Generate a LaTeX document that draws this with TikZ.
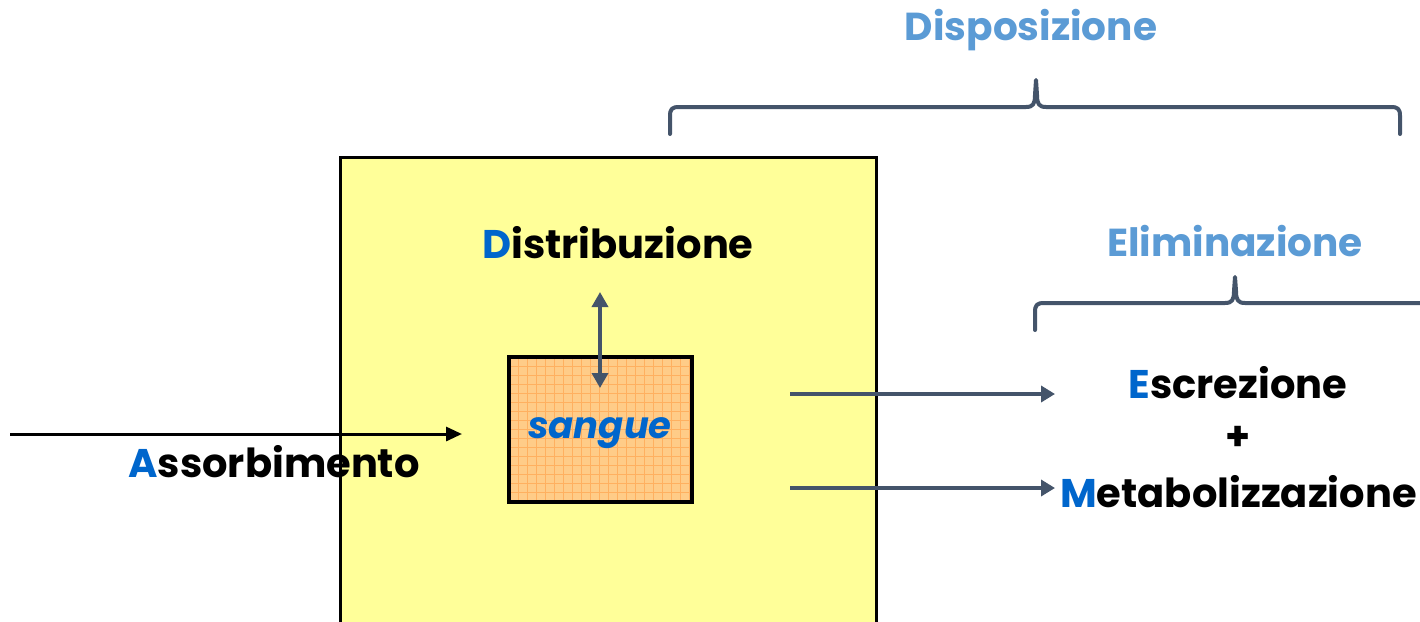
\documentclass[tikz,border=0pt]{standalone}
\usepackage{fontspec}
\setmainfont{Poppins}
\usetikzlibrary{arrows.meta}
\definecolor{slate}{HTML}{44546A}
\definecolor{lblue}{HTML}{5B9BD5}
\definecolor{dblue}{HTML}{0066CC}
\definecolor{pale}{HTML}{FFFF99}
\definecolor{peach}{HTML}{FFCC88}
\definecolor{gridor}{HTML}{FFB060}
\tikzset{
  lbl/.style={font=\fontsize{40}{46}\selectfont\bfseries, text=black, inner sep=0pt},
  head/.style={font=\fontsize{39}{45}\selectfont\bfseries, text=lblue, inner sep=0pt},
  flow/.style={draw=slate, line width=3.5pt, -{Triangle[length=14pt,width=16pt]}},
  brace/.style={draw=slate, line width=4pt, line cap=round, line join=round},
}
\newcommand{\ini}[1]{\textcolor{dblue}{#1}}
\begin{document}
\begin{tikzpicture}[x=1pt,y=-1pt]
\useasboundingbox (0,0) rectangle (1420,621);
\clip (0,0) rectangle (1420,621);
\fill[white] (0,0) rectangle (1420,621);

% body compartment
\draw[fill=pale, line width=3pt] (340,157) rectangle (876,640);

% blood compartment with grid texture
\fill[peach] (509,357) rectangle (692,502);
\begin{scope}
  \clip (509,357) rectangle (692,502);
  \foreach \i in {0,...,21} {
    \draw[gridor, line width=0.8pt] (509+9*\i,357) -- (509+9*\i,502);
  }
  \foreach \j in {0,...,17} {
    \draw[gridor, line width=0.8pt] (509,357+9*\j) -- (692,357+9*\j);
  }
\end{scope}
\draw[line width=3.5pt] (509,357) rectangle (692,502);
\node[font=\fontsize{37}{42}\selectfont\bfseries\itshape, text=dblue, inner sep=0pt] (sangue) at (600,433) {sangue};

% distribution
\node[lbl] (distr) at (618,243) {\ini{D}istribuzione};
\coordinate (dtop) at (600,292);
\coordinate (dbot) at (600,388);
\draw[draw=slate, line width=3.5pt, {Triangle[length=15pt,width=16pt]}-{Triangle[length=15pt,width=16pt]}] (dtop) -- (dbot);

% absorption
\coordinate (abs0) at (10,434);
\coordinate (abs1) at (462,434);
\draw[line width=3pt, -{Triangle[length=16pt,width=14pt]}] (abs0) -- (abs1);
\node[lbl] (assorb) at (274,462) {\ini{A}ssorbimento};

% elimination routes
\node[lbl] (escr) at (1238,383) {\ini{E}screzione};
\node[lbl] (plus) at (1238,438) {+};
\node[lbl, anchor=west] (metab) at (1060,492) {\ini{M}etabolizzazione};
\coordinate (e0) at (790,394);
\coordinate (e1) at (1055,394);
\coordinate (m0) at (790,488);
\coordinate (m1) at (1055,488);
\draw[flow] (e0) -- (e1);
\draw[flow] (m0) -- (m1);

% headings and braces
\node[head] (disp) at (1031,30) {Disposizione};
\node[head] (elim) at (1235,241) {Eliminazione};

\draw[brace] (670,134) -- (670,116) .. controls (670,109) and (672,107) .. (679,107)
  -- (1026,107) .. controls (1033,107) and (1035,104) .. (1035,95) -- (1036,80)
  -- (1037,95) .. controls (1037,104) and (1039,107) .. (1046,107)
  -- (1391,107) .. controls (1398,107) and (1400,109) .. (1400,116) -- (1400,134);

\draw[brace] (1035,330) -- (1035,312) .. controls (1035,305) and (1037,303) .. (1044,303)
  -- (1225,303) .. controls (1232,303) and (1234,300) .. (1234,291) -- (1235,277)
  -- (1236,291) .. controls (1236,300) and (1238,303) .. (1245,303) -- (1440,303);
\end{tikzpicture}
\end{document}
